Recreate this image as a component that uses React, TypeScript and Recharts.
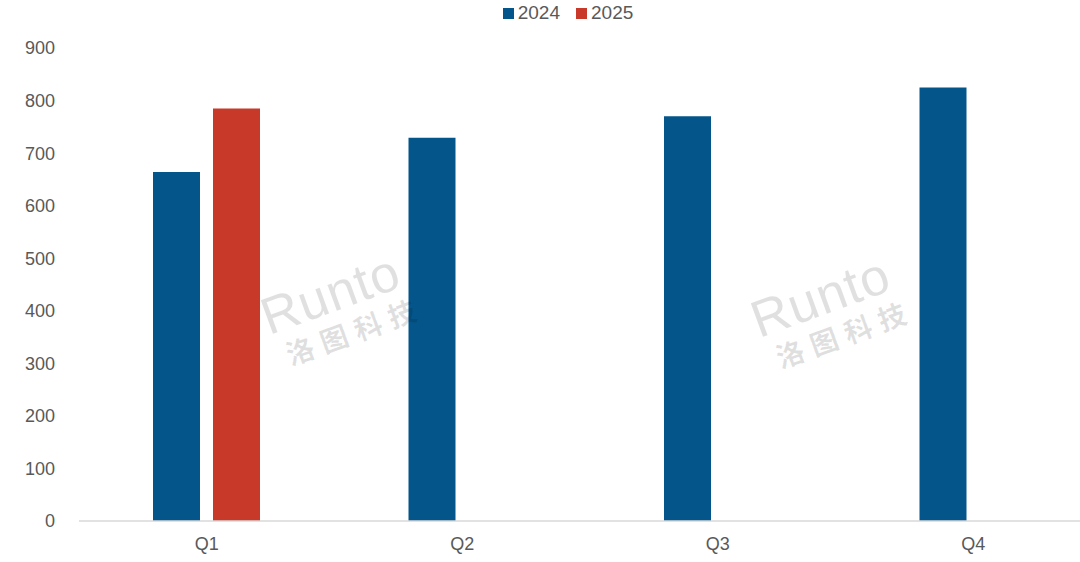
import { Bar, BarChart, Legend, XAxis, YAxis } from "recharts";

const quarters = ["Q1", "Q2", "Q3", "Q4"];
const sales2024 = [664, 729, 770, 825];
const sales2025: (number | null)[] = [785, null, null, null];
const yTicks = [0, 100, 200, 300, 400, 500, 600, 700, 800, 900];

const datos = quarters.map((q, i) => ({
  trimestre: q,
  y2024: sales2024[i],
  y2025: sales2025[i],
}));

const FONT = '"Liberation Sans", Arial, sans-serif';

function Marca({ left, top }: { left: number; top: number }) {
  return (
    <div
      style={{
        position: "absolute",
        left,
        top,
        transform: "rotate(-20deg)",
        transformOrigin: "left top",
        color: "rgba(0,0,0,0.12)",
        fontFamily: FONT,
        pointerEvents: "none",
        lineHeight: 1,
      }}
    >
      <div style={{ fontSize: 52, letterSpacing: 1 }}>Runto</div>
      <div
        style={{
          fontSize: 28,
          fontWeight: 700,
          letterSpacing: 8,
          marginLeft: 10,
          marginTop: 2,
          fontFamily: '"Noto Sans CJK SC", sans-serif',
        }}
      >
        洛图科技
      </div>
    </div>
  );
}

export default function App() {
  return (
    <div
      style={{
        position: "absolute",
        left: 0,
        top: 0,
        width: 1080,
        height: 562,
        overflow: "hidden",
        background: "#fff",
        fontFamily: FONT,
      }}
    >
      <BarChart
        width={1101}
        height={562}
        data={datos}
        margin={{ top: 22, right: 0, bottom: 0, left: 0 }}
        barGap={13}
        barSize={47}
      >
        <Legend
          verticalAlign="top"
          align="center"
          iconType="square"
          iconSize={11}
          wrapperStyle={{ top: 0, left: 0, width: 1152, fontSize: 19, lineHeight: "26px" }}
          formatter={(v) => <span style={{ color: "#595959", marginRight: 6 }}>{v}</span>}
        />
        <XAxis
          dataKey="trimestre"
          height={41}
          tickLine={false}
          axisLine={{ stroke: "#d9d9d9", strokeWidth: 1.5 }}
          tickMargin={10}
          tick={{ fontSize: 18, fill: "#595959", fontFamily: FONT }}
        />
        <YAxis
          width={79}
          domain={[0, 900]}
          ticks={yTicks}
          axisLine={false}
          tickLine={false}
          tickMargin={18}
          tick={{ fontSize: 18, fill: "#595959", fontFamily: FONT }}
        />
        <Bar dataKey="y2024" name="2024" fill="#04568A" isAnimationActive={false} />
        <Bar dataKey="y2025" name="2025" fill="#C8392A" isAnimationActive={false} />
      </BarChart>
      <Marca left={254} top={294} />
      <Marca left={744} top={297} />
    </div>
  );
}
